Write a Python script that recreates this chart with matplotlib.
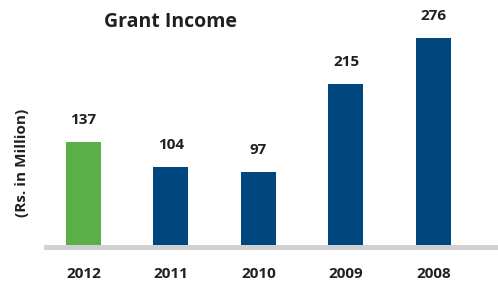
import matplotlib
matplotlib.use("Agg")
import matplotlib.pyplot as plt

years = ["2012", "2011", "2010", "2009", "2008"]
grant_income = [137, 104, 97, 215, 276]
bar_colors = ["#5BAF47", "#00467F", "#00467F", "#00467F", "#00467F"]

plt.rcParams["font.family"] = ["Open Sans", "DejaVu Sans"]

fig = plt.figure(figsize=(4.98, 2.83), dpi=100)
ax = fig.add_axes([44 / 498, 33 / 283, 454 / 498, 250 / 283])

x = range(len(years))
ax.bar(x, grant_income, width=0.4, color=bar_colors, zorder=2)
ax.axhspan(-6.67, 0, color="#D0D0D2", lw=0, zorder=1)

for xi, v in zip(x, grant_income):
    ax.text(xi, v + 20, str(v), ha="center", va="bottom",
            fontsize=11, fontweight="bold", color="#231F20")

ax.set_xlim(-0.451, 4.737)
ax.set_ylim(-6.67, 326.7)
ax.set_xticks(list(x))
ax.set_xticklabels(years, fontsize=11, fontweight="bold", color="#231F20")
ax.tick_params(axis="x", length=0, pad=12.5)
ax.set_yticks([])
for s in ax.spines.values():
    s.set_visible(False)

fig.text(170 / 498, 1 - 22 / 283, "Grant Income", ha="center", va="center",
         fontsize=14, fontweight="bold", color="#231F20")
fig.text(22 / 498, 1 - 163 / 283, "(Rs. in Million)", ha="center", va="center",
         rotation=90, fontsize=11, fontweight="bold", color="#231F20")

fig.savefig("out.png", dpi=100)
